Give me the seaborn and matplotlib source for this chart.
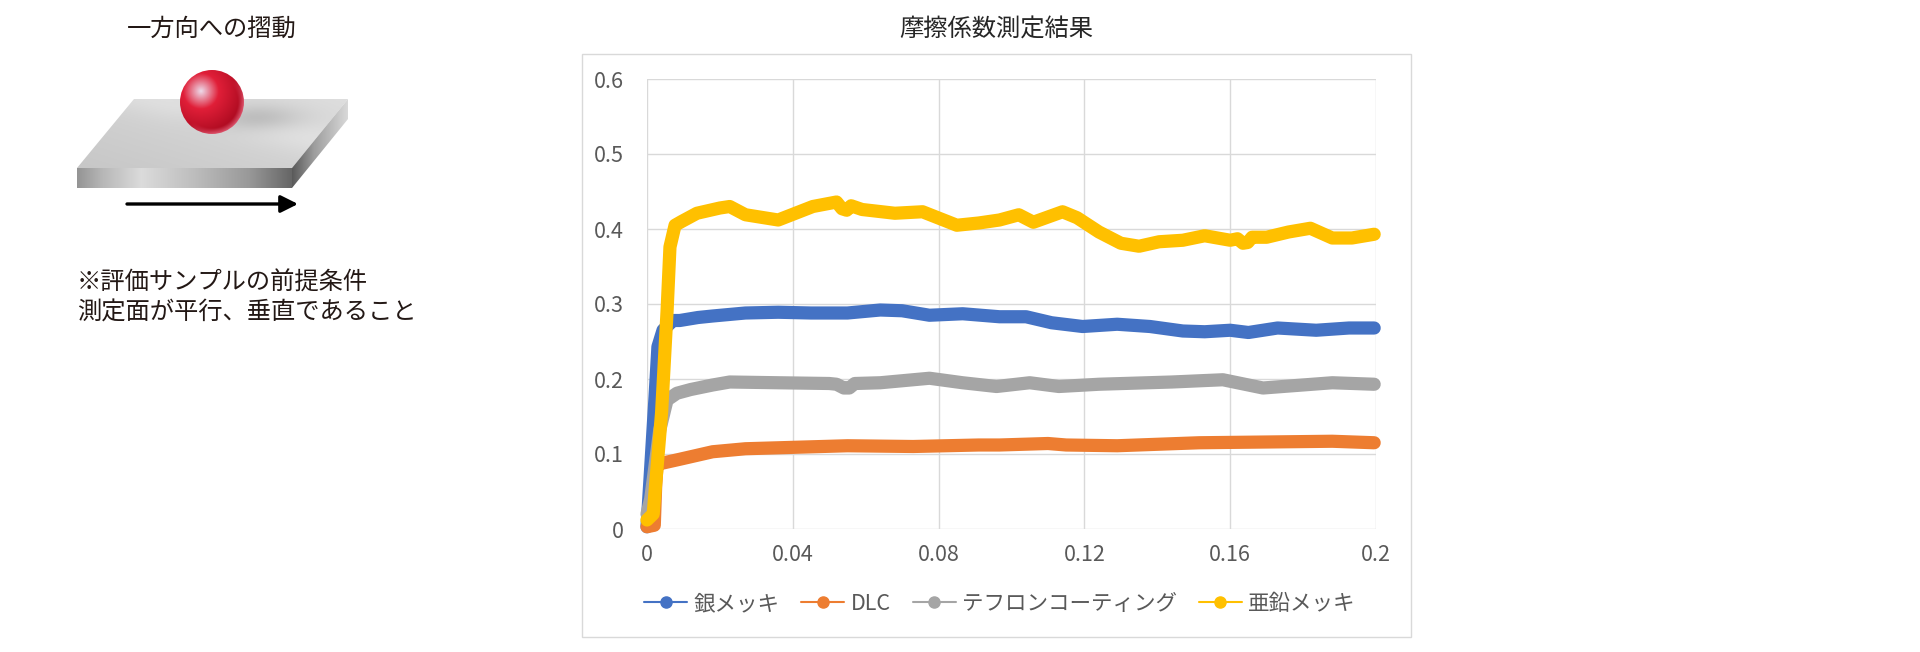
import numpy as np
import pandas as pd
import matplotlib.pyplot as plt
import seaborn as sns
from matplotlib.patches import Polygon, Rectangle, Circle
from matplotlib.lines import Line2D

# series (x = sliding distance, y = friction coefficient)
series_names = ['銀メッキ', 'DLC', 'テフロンコーティング', '亜鉛メッキ']
series_colors = ['#4472C4', '#ED7D31', '#A5A5A5', '#FFC000']

silver_x = [0, 0.0008, 0.0022, 0.003, 0.0044, 0.0071, 0.009, 0.014, 0.018, 0.027, 0.036, 0.045,
            0.055, 0.064, 0.070, 0.0775, 0.0866, 0.0967, 0.104, 0.111, 0.1195, 0.129, 0.138,
            0.147, 0.153, 0.160, 0.165, 0.173, 0.1836, 0.1926, 0.1995]
silver_y = [0.003, 0.065, 0.176, 0.243, 0.265, 0.278, 0.278, 0.282, 0.284, 0.288, 0.289, 0.288,
            0.288, 0.292, 0.291, 0.285, 0.287, 0.283, 0.283, 0.275, 0.270, 0.273, 0.270,
            0.264, 0.263, 0.265, 0.262, 0.268, 0.265, 0.268, 0.268]

dlc_x = [0, 0.002, 0.0024, 0.0028, 0.0044, 0.009, 0.018, 0.027, 0.041, 0.055, 0.073, 0.091,
         0.0967, 0.110, 0.115, 0.129, 0.1515, 0.170, 0.188, 0.1995]
dlc_y = [0.003, 0.005, 0.060, 0.088, 0.088, 0.093, 0.103, 0.107, 0.109, 0.111, 0.110, 0.112,
         0.112, 0.114, 0.112, 0.111, 0.115, 0.116, 0.117, 0.115]

teflon_x = [0, 0.001, 0.0035, 0.0055, 0.0082, 0.012, 0.018, 0.0227, 0.036, 0.050, 0.052, 0.054,
            0.0555, 0.057, 0.064, 0.0775, 0.0866, 0.0959, 0.105, 0.113, 0.124, 0.144, 0.158,
            0.169, 0.188, 0.1995]
teflon_y = [0.020, 0.040, 0.132, 0.172, 0.181, 0.186, 0.192, 0.196, 0.195, 0.194, 0.193, 0.188,
            0.188, 0.194, 0.195, 0.201, 0.195, 0.190, 0.195, 0.190, 0.193, 0.196, 0.199,
            0.188, 0.195, 0.193]

zinc_x = [0, 0.0017, 0.004, 0.0055, 0.0063, 0.0077, 0.0095, 0.0137, 0.020, 0.0227, 0.027, 0.036,
          0.0455, 0.052, 0.0535, 0.0548, 0.056, 0.059, 0.068, 0.0756, 0.085, 0.091, 0.0967,
          0.102, 0.106, 0.114, 0.118, 0.124, 0.130, 0.135, 0.1405, 0.147, 0.153, 0.160, 0.162,
          0.1635, 0.1648, 0.166, 0.170, 0.176, 0.182, 0.188, 0.1934, 0.1995]
zinc_y = [0.012, 0.020, 0.155, 0.290, 0.376, 0.405, 0.410, 0.421, 0.428, 0.430, 0.419, 0.412,
          0.430, 0.436, 0.427, 0.425, 0.431, 0.426, 0.421, 0.423, 0.405, 0.408, 0.412,
          0.419, 0.409, 0.423, 0.415, 0.396, 0.381, 0.377, 0.383, 0.385, 0.391, 0.385, 0.387,
          0.381, 0.382, 0.389, 0.389, 0.396, 0.401, 0.388, 0.388, 0.393]

x_ticks = [0, 0.04, 0.08, 0.12, 0.16, 0.2]
x_tick_labels = ['0', '0.04', '0.08', '0.12', '0.16', '0.2']
y_ticks = [0, 0.1, 0.2, 0.3, 0.4, 0.5, 0.6]
y_tick_labels = ['0', '0.1', '0.2', '0.3', '0.4', '0.5', '0.6']

chart_title = '摩擦係数測定結果'
panel_title = '一方向への摺動'
note_lines = ['※評価サンプルの前提条件', '測定面が平行、垂直であること']

sns.set_style('white')
plt.rcParams['font.family'] = ['Noto Sans CJK JP', 'DejaVu Sans']

W, H = 1920, 652
fig = plt.figure(figsize=(W / 100, H / 100), dpi=100)

# ---- left illustration (axes in pixel coordinates) ----
ax0 = fig.add_axes([0, 1 - 340 / H, 440 / W, 340 / H])
ax0.set_xlim(0, 440)
ax0.set_ylim(340, 0)
ax0.axis('off')

# top face of the plate, with a soft shadow behind the ball
top_poly = Polygon([(134, 99), (348, 99), (292, 168), (77, 168)], closed=True, facecolor='none', edgecolor='none')
ax0.add_patch(top_poly)
gx, gy = np.meshgrid(np.linspace(77, 348, 300), np.linspace(99, 168, 100))
base = 0.82 + 0.05 * ((gx - 77) / 271) - 0.04 * ((gy - 99) / 69)
band = 0.04 * np.exp(-((gy - 0.25 * (gx - 77) - 80) / 18) ** 2)
shadow = 0.13 * np.exp(-(((gx - 255) / 45) ** 2 + ((gy - 118) / 13) ** 2))
top_img = np.clip(base + band - shadow, 0, 1)
im = ax0.imshow(np.dstack([top_img] * 3), extent=(77, 348, 168, 99), aspect='auto', zorder=1)
im.set_clip_path(top_poly)

# front face
front_poly = Polygon([(77, 168), (292, 168), (292, 188), (77, 188)], closed=True, facecolor='none', edgecolor='none')
ax0.add_patch(front_poly)
fx = np.linspace(0, 1, 300)
front_g = np.interp(fx, [0, 0.12, 0.3, 0.55, 0.8, 1.0], [0.58, 0.72, 0.86, 0.74, 0.60, 0.40])
front_img = np.dstack([np.tile(front_g, (20, 1))] * 3)
im = ax0.imshow(front_img, extent=(77, 292, 188, 168), aspect='auto', zorder=1)
im.set_clip_path(front_poly)

# right side face
side_poly = Polygon([(292, 168), (348, 99), (348, 119), (292, 188)], closed=True, facecolor='none', edgecolor='none')
ax0.add_patch(side_poly)
sx = np.linspace(0, 1, 100)
side_g = np.interp(sx, [0, 0.4, 1.0], [0.35, 0.62, 0.85])
side_img = np.dstack([np.tile(side_g, (90, 1))] * 3)
im = ax0.imshow(side_img, extent=(292, 348, 188, 99), aspect='auto', zorder=1)
im.set_clip_path(side_poly)

# red ball
bx, by, br = 212, 102, 32
ball_clip = Circle((bx, by), br, facecolor='none', edgecolor='none')
ax0.add_patch(ball_clip)
px, py = np.meshgrid(np.linspace(bx - br, bx + br, 200), np.linspace(by - br, by + br, 200))
d_hi = np.hypot(px - (bx - 11), py - (by - 11)) / (1.6 * br)
d_c = np.hypot(px - bx, py - by) / br
hi = np.array([0.93, 0.86, 0.92])
mid = np.array([0.88, 0.12, 0.22])
dark = np.array([0.62, 0.02, 0.10])
t = np.clip(d_hi, 0, 1)[..., None]
col = np.where(t < 0.35, hi + (mid - hi) * (t / 0.35), mid + (dark - mid) * ((t - 0.35) / 0.65))
rim = np.clip((d_c - 0.82) / 0.18, 0, 1) * np.clip((px - bx + py - by) / br, 0, 1)
col = col + rim[..., None] * (np.array([0.95, 0.45, 0.55]) - col) * 0.7
im = ax0.imshow(np.clip(col, 0, 1), extent=(bx - br, bx + br, by + br, by - br), aspect='auto', zorder=3)
im.set_clip_path(ball_clip)

ax0.annotate('', xy=(298, 204), xytext=(127, 204),
             arrowprops=dict(arrowstyle='-|>', lw=2.4, color='black', mutation_scale=26, shrinkA=0, shrinkB=0))
ax0.set_xlim(0, 440)
ax0.set_ylim(340, 0)

fig.text(212 / W, 1 - 29 / H, panel_title, ha='center', va='center', fontsize=17.5, color='#231815')
fig.text(77 / W, 1 - 283 / H, note_lines[0], ha='left', va='center', fontsize=17.5, color='#231815')
fig.text(77 / W, 1 - 313 / H, note_lines[1], ha='left', va='center', fontsize=17.5, color='#231815')

# ---- chart ----
fig.add_artist(Rectangle((582 / W, 1 - 637 / H), (1411 - 582) / W, (637 - 54) / H,
                         transform=fig.transFigure, facecolor='white', edgecolor='#D9D9D9', lw=1, zorder=0))

ax = fig.add_axes([647 / W, 1 - 529 / H, (1376 - 647) / W, (529 - 79) / H])
ax.set_facecolor('none')

frames = []
for name, xs, ys in zip(series_names,
                        [silver_x, dlc_x, teflon_x, zinc_x],
                        [silver_y, dlc_y, teflon_y, zinc_y]):
    frames.append(pd.DataFrame({'x': xs, 'mu': ys, 'series': name}))
df = pd.concat(frames, ignore_index=True)

sns.lineplot(data=df, x='x', y='mu', hue='series', hue_order=series_names,
             palette=series_colors, estimator=None, sort=False, linewidth=9.5,
             legend=False, ax=ax, solid_capstyle='round', solid_joinstyle='round', clip_on=False)

ax.set_xlim(0, 0.2)
ax.set_ylim(0, 0.6)
ax.set_xticks(x_ticks)
ax.set_xticklabels(x_tick_labels)
ax.set_yticks(y_ticks)
ax.set_yticklabels(y_tick_labels)
ax.set_xlabel('')
ax.set_ylabel('')
ax.grid(True, color='#D9D9D9', lw=1)
ax.set_axisbelow(True)
for s in ax.spines.values():
    s.set_visible(False)
ax.tick_params(axis='both', length=0, labelsize=15.5, colors='#595959')
ax.tick_params(axis='y', pad=17)
ax.tick_params(axis='x', pad=11)

handles = [Line2D([0], [0], color=c, lw=1.5, marker='o', markersize=8) for c in series_colors]
fig.legend(handles, series_names, loc='center', bbox_to_anchor=(1000 / W, 1 - 604 / H), ncol=4,
           frameon=False, fontsize=15.5, labelcolor='#595959', handlelength=2.0, handletextpad=0.3,
           columnspacing=1.0)

fig.text(996 / W, 1 - 30 / H, chart_title, ha='center', va='center', fontsize=17.5, color='#262626')

fig.savefig('out.png', dpi=100)
